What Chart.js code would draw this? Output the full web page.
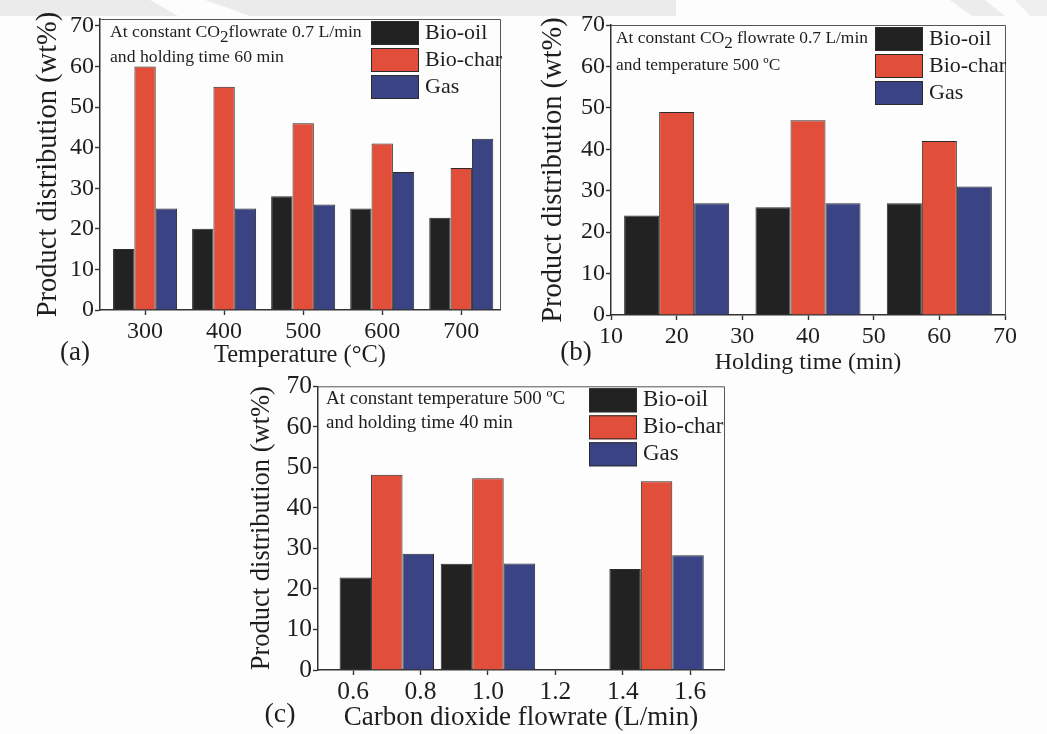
<!DOCTYPE html>
<html>
<head>
<meta charset="utf-8">
<script src="https://cdn.jsdelivr.net/npm/chart.js@4.4.1/dist/chart.umd.min.js"></script>
<style>
  html, body { margin: 0; padding: 0; background: #fdfdfd; }
  body { width: 1047px; height: 734px; position: relative; overflow: hidden; }
  .panel { position: absolute; }
  .panel canvas { display: block; }
  .mark { position: absolute; left: 0; top: 0; }
</style>
</head>
<body>
<!-- faint page mark along the top edge -->
<svg class="mark" width="1047" height="16" viewBox="0 0 1047 16">
  <polygon points="0,0 150,0 178,16 0,16" fill="#ebebeb"/>
  <polygon points="205,0 676,0 676,16 250,16" fill="#ebebeb"/>
  <polygon points="950,0 985,0 1005,16 972,16" fill="#ececec"/>
  <polygon points="1015,0 1047,0 1047,16 1030,16" fill="#efefef"/>
</svg>
<div class="panel" style="left:0;top:0;width:520px;height:375px"><canvas id="chartA"></canvas></div>
<div class="panel" style="left:520px;top:0;width:527px;height:380px"><canvas id="chartB"></canvas></div>
<div class="panel" style="left:230px;top:370px;width:530px;height:364px"><canvas id="chartC"></canvas></div>
<script>
// Product fractions (wt%) for the three pyrolysis product streams
const seriesNames = ['Bio-oil', 'Bio-char', 'Gas'];
const seriesColors = ['#222222', '#e14f3a', '#3a4384'];
const yTicks = [0, 10, 20, 30, 40, 50, 60, 70];

// (a) effect of temperature
const tempC = [300, 400, 500, 600, 700];
const tempBioOil = [15, 20, 28, 25, 22.7];
const tempBioChar = [60, 55, 46, 41, 35];
const tempGas = [25, 25, 26, 34, 42.2];
const tempTicks = [300, 400, 500, 600, 700];

// (b) effect of holding time
const holdMin = [20, 40, 60];
const holdBioOil = [24, 26, 27];
const holdBioChar = [49, 47, 42];
const holdGas = [27, 27, 31];
const holdTicks = [10, 20, 30, 40, 50, 60, 70];

// (c) effect of CO2 flowrate
const flowLmin = [0.7, 1.0, 1.5];
const flowBioOil = [22.8, 26.2, 24.9];
const flowBioChar = [48.2, 47.3, 46.6];
const flowGas = [28.7, 26.3, 28.3];
const flowTicks = [0.6, 0.8, 1.0, 1.2, 1.4, 1.6];

const SERIF = "'Liberation Serif', 'Times New Roman', serif";
const INK = '#1e1e1e';

// draws a text line where "_2" marks a subscript digit
function drawRich(ctx, text, x, y, size) {
  const parts = text.split(/(_\d)/);
  let cx = x;
  ctx.textBaseline = 'middle';
  ctx.textAlign = 'left';
  for (const p of parts) {
    if (!p) continue;
    if (p.startsWith('_')) {
      ctx.font = `${Math.round(size * 0.95)}px ${SERIF}`;
      ctx.fillText(p.slice(1), cx, y + size * 0.3);
      cx += ctx.measureText(p.slice(1)).width;
    } else {
      ctx.font = `${size}px ${SERIF}`;
      ctx.fillText(p, cx, y);
      cx += ctx.measureText(p).width;
    }
  }
}

const panelDecor = {
  id: 'panelDecor',
  afterDraw(chart) {
    const o = chart.options.plugins.panelDecor;
    const { ctx, chartArea: a } = chart;
    ctx.save();
    // top and right frame lines
    ctx.strokeStyle = '#555';
    ctx.lineWidth = 1;
    ctx.beginPath();
    ctx.moveTo(a.left, a.top + 0.5);
    ctx.lineTo(a.right + 0.5, a.top + 0.5);
    ctx.lineTo(a.right + 0.5, a.bottom);
    ctx.stroke();

    // condition note
    ctx.fillStyle = INK;
    o.note.forEach((line, i) => drawRich(ctx, line, a.left + o.noteDx, a.top + o.noteY[i], o.noteSize));

    // legend with large swatches
    const lx = a.right - o.legendDx;
    chart.data.datasets.forEach((ds, i) => {
      const ty = a.top + 2 + i * 27;
      ctx.fillStyle = ds.backgroundColor;
      ctx.fillRect(lx, ty, 48, 24);
      ctx.strokeStyle = '#2b2b2b';
      ctx.lineWidth = 1;
      ctx.strokeRect(lx + 0.5, ty + 0.5, 47, 23);
      ctx.fillStyle = INK;
      ctx.font = `${o.legendSize}px ${SERIF}`;
      ctx.textAlign = 'left';
      ctx.textBaseline = 'middle';
      ctx.fillText(ds.label, lx + 54, ty + 12);
    });

    // panel tag
    ctx.font = `${o.tagSize}px ${SERIF}`;
    ctx.textAlign = 'center';
    ctx.textBaseline = 'middle';
    ctx.fillStyle = INK;
    ctx.fillText(o.tag, o.tagX, o.tagY);
    ctx.restore();
  }
};

function makePanel(id, p) {
  const series = [p.oil, p.char, p.gas];
  return new Chart(document.getElementById(id), {
    type: 'bar',
    data: {
      datasets: series.map((vals, i) => ({
        label: seriesNames[i],
        data: p.xs.map((x, j) => ({ x: x, y: vals[j] })),
        backgroundColor: seriesColors[i],
        borderColor: '#2b2b2b',
        borderWidth: 1,
        categoryPercentage: p.catPct,
        barPercentage: 1
      }))
    },
    options: {
      responsive: true,
      maintainAspectRatio: false,
      animation: false,
      layout: { padding: { top: p.padTop, right: p.padRight, left: 0, bottom: 0 } },
      scales: {
        x: {
          type: 'linear',
          offset: false,
          min: p.xMin,
          max: p.xMax,
          afterBuildTicks: s => { s.ticks = p.xTicks.map(v => ({ value: v })); },
          afterFit: s => { s.height = p.xH; },
          ticks: {
            autoSkip: false, maxRotation: 0, padding: 2, color: INK,
            font: { family: SERIF, size: p.tickSize },
            callback: p.fmt
          },
          grid: { offset: false, drawOnChartArea: false, drawTicks: true, tickLength: 5, color: '#333', tickWidth: 1.4 },
          border: { display: true, color: '#333', width: 1.5 },
          title: {
            display: true, text: p.xTitle, color: INK,
            font: { family: SERIF, size: p.xTitleSize },
            padding: { top: 0, bottom: p.xTitlePad }
          }
        },
        y: {
          min: 0,
          max: p.yMax,
          afterBuildTicks: s => { s.ticks = yTicks.map(v => ({ value: v })); },
          afterFit: s => { s.width = p.yW; },
          ticks: { padding: 1, color: INK, font: { family: SERIF, size: p.tickSize } },
          grid: { drawOnChartArea: false, drawTicks: true, tickLength: 5, color: '#333', tickWidth: 1.4 },
          border: { display: true, color: '#333', width: 1.5 },
          title: {
            display: true, text: 'Product distribution (wt%)', color: INK,
            font: { family: SERIF, size: p.yTitleSize },
            padding: { top: p.yTitlePad, bottom: 0 }
          }
        }
      },
      plugins: {
        legend: { display: false },
        tooltip: { enabled: false },
        panelDecor: p.decor
      }
    },
    plugins: [panelDecor]
  });
}

makePanel('chartA', {
  xs: tempC, oil: tempBioOil, char: tempBioChar, gas: tempGas,
  xMin: 243, xMax: 749, xTicks: tempTicks, fmt: v => String(v), yMax: 71.7,
  catPct: 0.81, yW: 100, xH: 65, padTop: 19, padRight: 20,
  tickSize: 24, xTitle: 'Temperature (°C)', xTitleSize: 24.5, xTitlePad: 5, yTitleSize: 28.5, yTitlePad: 31,
  decor: {
    note: ['At constant CO_2flowrate 0.7 L/min', 'and holding time 60 min'],
    noteDx: 10, noteY: [13, 38], noteSize: 17.7, legendDx: 129, legendSize: 22,
    tag: '(a)', tagX: 75, tagY: 353, tagSize: 27
  }
});

makePanel('chartB', {
  xs: holdMin, oil: holdBioOil, char: holdBioChar, gas: holdGas,
  xMin: 10, xMax: 70, xTicks: holdTicks, fmt: v => String(v), yMax: 70,
  catPct: 1.6, yW: 91, xH: 65, padTop: 25, padRight: 42,
  tickSize: 24, xTitle: 'Holding time (min)', xTitleSize: 24, xTitlePad: 2.5, yTitleSize: 28.5, yTitlePad: 16,
  decor: {
    note: ['At constant CO_2 flowrate 0.7 L/min', 'and temperature 500 ºC'],
    noteDx: 5, noteY: [13, 40], noteSize: 17.4, legendDx: 130, legendSize: 22,
    tag: '(b)', tagX: 56, tagY: 353, tagSize: 27
  }
});

makePanel('chartC', {
  xs: flowLmin, oil: flowBioOil, char: flowBioChar, gas: flowGas,
  xMin: 0.496, xMax: 1.7, xTicks: flowTicks, fmt: v => v.toFixed(1), yMax: 70,
  catPct: 1.4, yW: 88, xH: 64, padTop: 15, padRight: 36,
  tickSize: 25.5, xTitle: 'Carbon dioxide flowrate (L/min)', xTitleSize: 27, xTitlePad: 0, yTitleSize: 26.5, yTitlePad: 16,
  decor: {
    note: ['At constant temperature 500 ºC', 'and holding time 40 min'],
    noteDx: 8, noteY: [13, 37], noteSize: 19, legendDx: 135, legendSize: 23,
    tag: '(c)', tagX: 50, tagY: 345, tagSize: 28
  }
});
</script>
</body>
</html>
